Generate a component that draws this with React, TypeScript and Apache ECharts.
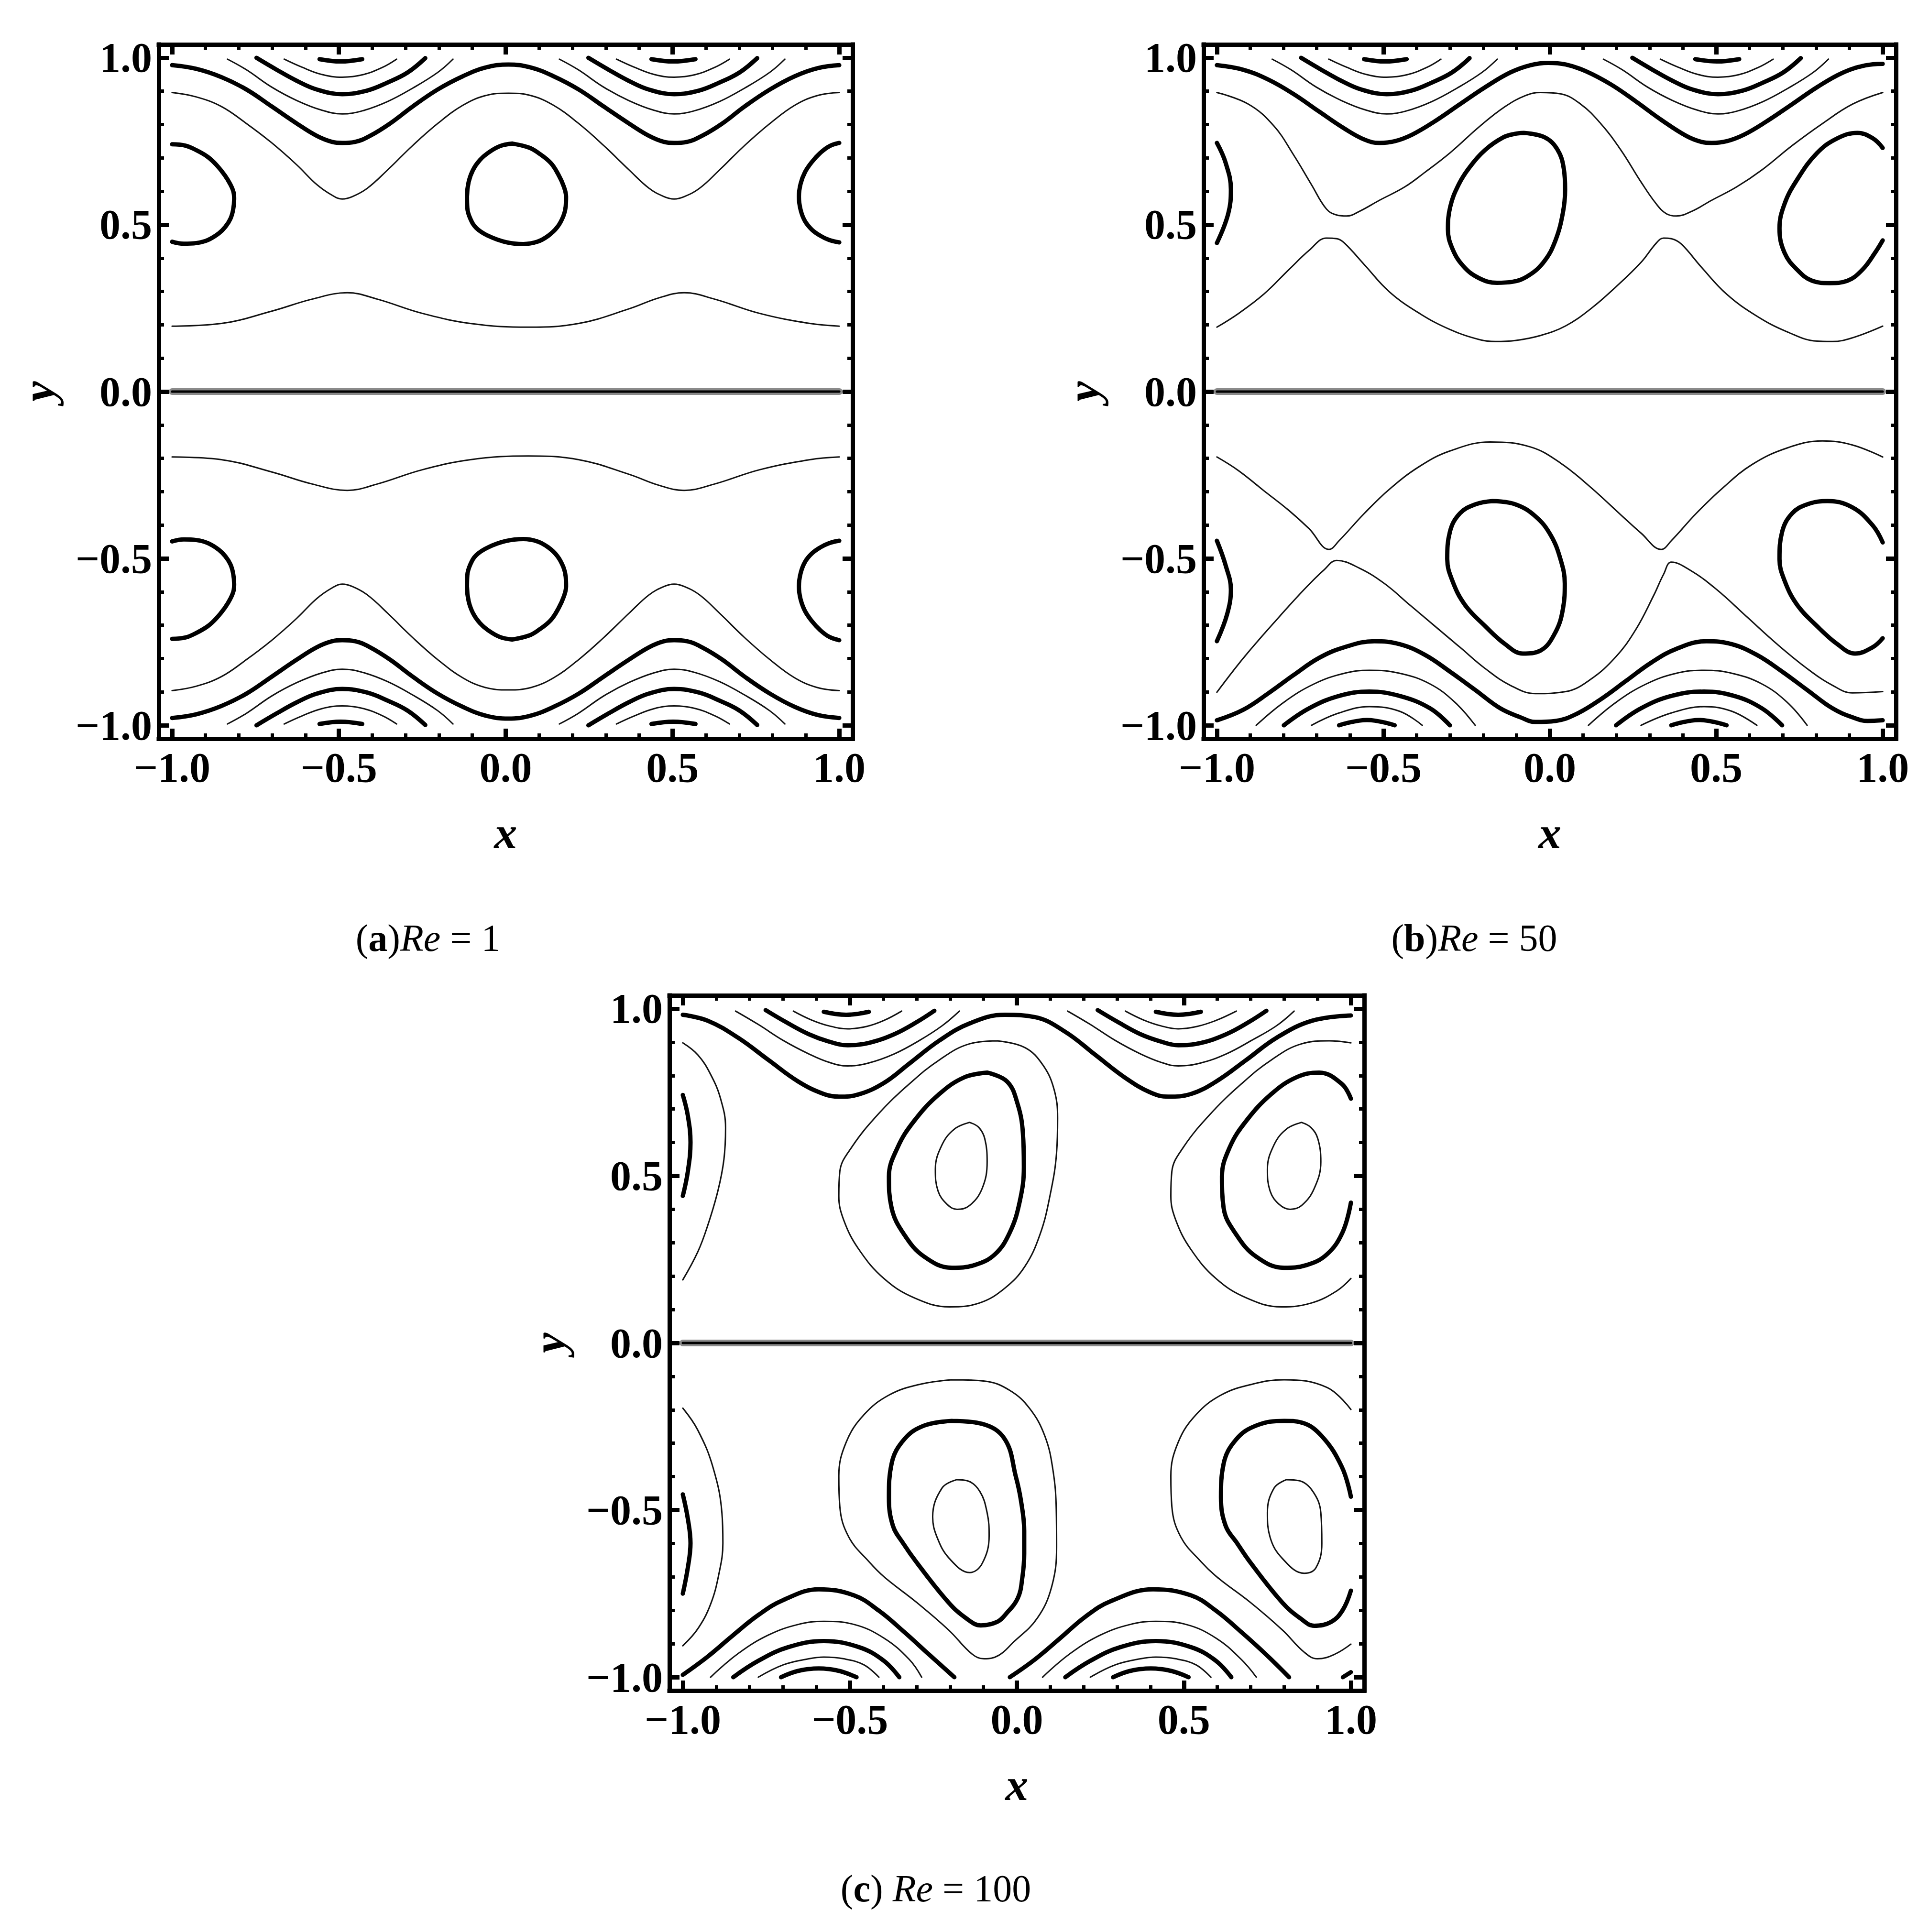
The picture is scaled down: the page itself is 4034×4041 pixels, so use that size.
import React, { useEffect, useRef } from "react";
import * as echarts from "echarts";

type Pt = [number, number];
type Poly = Pt[];

// ---------- axes / ticks ----------
const AXIS_MIN = -1.04;
const AXIS_MAX = 1.04;
const MAJOR_TICKS = [-1, -0.5, 0, 0.5, 1];
const MAJOR_LABELS = ["\u22121.0", "\u22120.5", "0.0", "0.5", "1.0"];
const MINOR_TICKS = [-1, -0.9, -0.8, -0.7, -0.6, -0.5, -0.4, -0.3, -0.2, -0.1, 0, 0.1, 0.2, 0.3, 0.4, 0.5, 0.6, 0.7, 0.8, 0.9, 1];
const X_TITLE = "x";
const Y_TITLE = "y";
const CAPTION_LETTERS = ["a", "b", "c"];
const CAPTION_RE = ["1", "50", "100"];
const CAPTION_GAP = ["", "", " "];

// ---------- shared wall streamlines near y = 1 (panels a and b) ----------
const WALL_CAP_L: Poly = [[-0.558, 0.996], [-0.495, 0.989], [-0.43, 0.996]];
const WALL_CAP_R: Poly = [[0.437, 0.996], [0.502, 0.989], [0.569, 0.996]];
const WALL_THIN1_L: Poly = [[-0.664, 0.996], [-0.611, 0.972], [-0.551, 0.95], [-0.49, 0.942], [-0.43, 0.949], [-0.37, 0.971], [-0.327, 0.996]];
const WALL_THIN1_R: Poly = [[0.332, 0.996], [0.385, 0.972], [0.445, 0.95], [0.505, 0.942], [0.566, 0.949], [0.626, 0.971], [0.671, 0.996]];
const WALL_THICK_L: Poly = [[-0.747, 1.0], [-0.686, 0.964], [-0.626, 0.931], [-0.566, 0.905], [-0.49, 0.891], [-0.415, 0.902], [-0.354, 0.926], [-0.294, 0.956], [-0.241, 0.999]];
const WALL_THICK_R: Poly = [[0.248, 1.0], [0.309, 0.964], [0.369, 0.931], [0.429, 0.905], [0.505, 0.891], [0.58, 0.902], [0.641, 0.926], [0.701, 0.956], [0.754, 0.999]];
const WALL_THIN2_L: Poly = [[-0.834, 0.996], [-0.777, 0.964], [-0.701, 0.912], [-0.626, 0.872], [-0.551, 0.843], [-0.49, 0.832], [-0.43, 0.841], [-0.354, 0.869], [-0.279, 0.909], [-0.204, 0.956], [-0.158, 0.996]];
const WALL_THIN2_R: Poly = [[0.161, 0.996], [0.218, 0.964], [0.294, 0.912], [0.369, 0.872], [0.444, 0.843], [0.505, 0.832], [0.565, 0.841], [0.641, 0.869], [0.716, 0.909], [0.791, 0.956], [0.837, 0.996]];

// ---------- panel (a) Re = 1, upper half (lower half is its mirror image) ----------
const A_WAVE_THICK: Poly = [[-1.0, 0.978], [-0.928, 0.967], [-0.852, 0.942], [-0.777, 0.905], [-0.701, 0.854], [-0.626, 0.803], [-0.566, 0.766], [-0.52, 0.748], [-0.49, 0.745], [-0.452, 0.748], [-0.407, 0.766], [-0.347, 0.803], [-0.279, 0.854], [-0.204, 0.905], [-0.128, 0.945], [-0.06, 0.971], [0.008, 0.98], [0.075, 0.971], [0.143, 0.945], [0.219, 0.905], [0.294, 0.854], [0.37, 0.803], [0.43, 0.766], [0.475, 0.748], [0.505, 0.745], [0.543, 0.748], [0.588, 0.766], [0.649, 0.803], [0.716, 0.854], [0.792, 0.905], [0.867, 0.945], [0.935, 0.969], [1.0, 0.978]];
const A_WAVE_THIN: Poly = [[-1.0, 0.896], [-0.928, 0.883], [-0.852, 0.854], [-0.777, 0.803], [-0.701, 0.745], [-0.626, 0.679], [-0.566, 0.62], [-0.52, 0.588], [-0.49, 0.577], [-0.46, 0.584], [-0.415, 0.609], [-0.354, 0.664], [-0.279, 0.737], [-0.204, 0.803], [-0.128, 0.858], [-0.06, 0.887], [0.008, 0.894], [0.075, 0.887], [0.143, 0.858], [0.219, 0.803], [0.294, 0.737], [0.37, 0.664], [0.43, 0.609], [0.475, 0.584], [0.505, 0.577], [0.535, 0.584], [0.581, 0.609], [0.641, 0.664], [0.716, 0.737], [0.792, 0.803], [0.867, 0.858], [0.935, 0.887], [1.0, 0.896]];
const A_LOOP_C: Poly = [[0.02, 0.743], [0.07, 0.731], [0.098, 0.715], [0.135, 0.685], [0.158, 0.65], [0.174, 0.615], [0.181, 0.584], [0.18, 0.555], [0.173, 0.526], [0.155, 0.493], [0.128, 0.467], [0.095, 0.449], [0.053, 0.442], [0.0, 0.448], [-0.053, 0.467], [-0.088, 0.49], [-0.106, 0.518], [-0.115, 0.55], [-0.116, 0.584], [-0.111, 0.628], [-0.098, 0.664], [-0.078, 0.693], [-0.053, 0.715], [-0.018, 0.735], [0.02, 0.743]];
const A_LOOP_L: Poly = [[-1.0, 0.741], [-0.96, 0.737], [-0.927, 0.723], [-0.893, 0.703], [-0.867, 0.679], [-0.842, 0.648], [-0.825, 0.62], [-0.816, 0.598], [-0.814, 0.577], [-0.817, 0.545], [-0.825, 0.518], [-0.84, 0.494], [-0.86, 0.474], [-0.893, 0.454], [-0.927, 0.445], [-0.965, 0.443], [-1.0, 0.449]];
const A_LOOP_R: Poly = [[1.0, 0.745], [0.97, 0.735], [0.943, 0.715], [0.918, 0.688], [0.897, 0.657], [0.884, 0.622], [0.879, 0.584], [0.884, 0.545], [0.897, 0.511], [0.918, 0.485], [0.943, 0.467], [0.97, 0.454], [1.0, 0.447]];
const A_MID: Poly = [[-1.0, 0.196], [-0.852, 0.204], [-0.701, 0.241], [-0.58, 0.277], [-0.475, 0.296], [-0.385, 0.277], [-0.249, 0.234], [-0.098, 0.203], [0.068, 0.193], [0.219, 0.204], [0.37, 0.248], [0.46, 0.281], [0.535, 0.296], [0.626, 0.277], [0.762, 0.234], [0.912, 0.204], [1.0, 0.196]];

// ---------- panel (b) Re = 50 ----------
const B_WAVE_THICK: Poly = [[-1.0, 0.978], [-0.92, 0.964], [-0.844, 0.934], [-0.769, 0.891], [-0.693, 0.839], [-0.617, 0.788], [-0.557, 0.755], [-0.512, 0.745], [-0.466, 0.75], [-0.413, 0.77], [-0.345, 0.81], [-0.27, 0.861], [-0.194, 0.912], [-0.119, 0.956], [-0.058, 0.978], [-0.005, 0.985], [0.048, 0.98], [0.108, 0.96], [0.184, 0.92], [0.259, 0.869], [0.335, 0.814], [0.41, 0.766], [0.456, 0.748], [0.486, 0.745], [0.531, 0.75], [0.584, 0.77], [0.652, 0.81], [0.728, 0.861], [0.803, 0.912], [0.879, 0.955], [0.947, 0.977], [1.0, 0.982]];
const B_SADDLE_UP: Poly = [[-1.0, 0.896], [-0.905, 0.861], [-0.829, 0.796], [-0.769, 0.708], [-0.716, 0.62], [-0.671, 0.547], [-0.64, 0.529], [-0.61, 0.526], [-0.572, 0.54], [-0.512, 0.573], [-0.436, 0.613], [-0.375, 0.657], [-0.3, 0.715], [-0.209, 0.796], [-0.134, 0.854], [-0.073, 0.887], [-0.028, 0.896], [0.032, 0.892], [0.093, 0.861], [0.153, 0.803], [0.214, 0.723], [0.274, 0.628], [0.32, 0.562], [0.35, 0.533], [0.38, 0.526], [0.426, 0.54], [0.486, 0.573], [0.561, 0.613], [0.637, 0.664], [0.728, 0.737], [0.819, 0.803], [0.909, 0.861], [1.0, 0.896]];
const B_SADDLE_LO: Poly = [[-1.0, 0.193], [-0.935, 0.234], [-0.859, 0.292], [-0.784, 0.365], [-0.723, 0.423], [-0.671, 0.46], [-0.64, 0.458], [-0.617, 0.445], [-0.557, 0.38], [-0.482, 0.299], [-0.391, 0.234], [-0.3, 0.186], [-0.209, 0.155], [-0.164, 0.15], [-0.104, 0.153], [-0.028, 0.168], [0.048, 0.197], [0.123, 0.248], [0.199, 0.314], [0.274, 0.387], [0.32, 0.445], [0.342, 0.46], [0.365, 0.458], [0.395, 0.442], [0.456, 0.372], [0.531, 0.292], [0.622, 0.226], [0.713, 0.179], [0.803, 0.151], [0.849, 0.15], [0.909, 0.161], [1.0, 0.196]];
const B_LOOP_C: Poly = [[-0.078, 0.775], [-0.016, 0.762], [0.023, 0.725], [0.042, 0.668], [0.046, 0.605], [0.039, 0.534], [0.017, 0.453], [-0.016, 0.391], [-0.063, 0.348], [-0.112, 0.329], [-0.159, 0.326], [-0.213, 0.34], [-0.26, 0.376], [-0.293, 0.429], [-0.306, 0.486], [-0.299, 0.554], [-0.274, 0.62], [-0.241, 0.672], [-0.193, 0.725], [-0.141, 0.761], [-0.106, 0.772], [-0.078, 0.775]];
const B_LOOP_R: Poly = [[1.0, 0.73], [0.97, 0.759], [0.924, 0.775], [0.864, 0.759], [0.803, 0.715], [0.743, 0.635], [0.705, 0.562], [0.69, 0.489], [0.705, 0.416], [0.743, 0.365], [0.788, 0.332], [0.841, 0.325], [0.894, 0.332], [0.939, 0.365], [0.977, 0.416], [1.0, 0.453]];
const B_LOOP_L: Poly = [[-1.0, 0.745], [-0.974, 0.686], [-0.958, 0.606], [-0.966, 0.533], [-1.0, 0.445]];

const B_BOT_SADDLE_UP: Poly = [[-1.0, -0.196], [-0.935, -0.237], [-0.859, -0.297], [-0.784, -0.356], [-0.723, -0.411], [-0.663, -0.473], [-0.633, -0.447], [-0.557, -0.365], [-0.481, -0.292], [-0.391, -0.224], [-0.3, -0.178], [-0.179, -0.151], [-0.058, -0.166], [0.032, -0.214], [0.123, -0.287], [0.214, -0.37], [0.274, -0.424], [0.335, -0.473], [0.365, -0.447], [0.44, -0.365], [0.516, -0.292], [0.607, -0.219], [0.713, -0.169], [0.819, -0.148], [0.909, -0.16], [1.0, -0.196]];
const B_BOT_SADDLE_LO: Poly = [[-1.0, -0.901], [-0.92, -0.798], [-0.829, -0.693], [-0.738, -0.593], [-0.678, -0.534], [-0.64, -0.506], [-0.572, -0.529], [-0.497, -0.575], [-0.421, -0.639], [-0.345, -0.703], [-0.27, -0.766], [-0.194, -0.83], [-0.119, -0.88], [-0.043, -0.905], [0.048, -0.899], [0.123, -0.862], [0.199, -0.794], [0.259, -0.712], [0.312, -0.611], [0.342, -0.547], [0.365, -0.511], [0.426, -0.538], [0.501, -0.593], [0.592, -0.675], [0.683, -0.757], [0.773, -0.83], [0.849, -0.88], [0.909, -0.903], [1.0, -0.899]];
const B_BOT_WAVE: Poly = [[-1.0, -0.985], [-0.92, -0.953], [-0.844, -0.903], [-0.769, -0.849], [-0.693, -0.798], [-0.617, -0.766], [-0.527, -0.748], [-0.451, -0.757], [-0.375, -0.789], [-0.3, -0.839], [-0.224, -0.894], [-0.149, -0.949], [-0.088, -0.976], [-0.043, -0.99], [0.017, -0.987], [0.078, -0.967], [0.153, -0.922], [0.229, -0.867], [0.305, -0.812], [0.38, -0.771], [0.471, -0.748], [0.547, -0.757], [0.622, -0.789], [0.698, -0.839], [0.773, -0.894], [0.849, -0.949], [0.909, -0.976], [0.955, -0.987], [1.0, -0.985]];
const B_BOT_THIN2_L: Poly = [[-0.882, -1.0], [-0.799, -0.931], [-0.708, -0.876], [-0.617, -0.844], [-0.542, -0.835], [-0.451, -0.844], [-0.36, -0.876], [-0.285, -0.931], [-0.224, -1.0]];
const B_BOT_THIN2_R: Poly = [[0.116, -1.0], [0.199, -0.931], [0.29, -0.876], [0.38, -0.844], [0.463, -0.835], [0.547, -0.844], [0.637, -0.876], [0.713, -0.931], [0.773, -1.0]];
const B_BOT_THICK_L: Poly = [[-0.799, -1.0], [-0.723, -0.949], [-0.633, -0.912], [-0.542, -0.899], [-0.451, -0.912], [-0.36, -0.949], [-0.3, -1.0]];
const B_BOT_THICK_R: Poly = [[0.199, -1.0], [0.274, -0.949], [0.365, -0.912], [0.463, -0.899], [0.554, -0.912], [0.637, -0.949], [0.698, -1.0]];
const B_BOT_THIN1_L: Poly = [[-0.716, -1.0], [-0.633, -0.963], [-0.542, -0.944], [-0.451, -0.958], [-0.383, -1.0]];
const B_BOT_THIN1_R: Poly = [[0.274, -1.0], [0.365, -0.963], [0.463, -0.944], [0.547, -0.958], [0.622, -1.0]];
const B_BOT_CAP_L: Poly = [[-0.633, -1.0], [-0.549, -0.984], [-0.466, -1.0]];
const B_BOT_CAP_R: Poly = [[0.365, -1.0], [0.448, -0.984], [0.531, -1.0]];
const B_BOT_LOOP_C: Poly = [[-0.172, -0.328], [-0.103, -0.338], [-0.043, -0.374], [0.002, -0.429], [0.032, -0.502], [0.045, -0.575], [0.04, -0.648], [0.017, -0.721], [-0.028, -0.776], [-0.081, -0.785], [-0.134, -0.757], [-0.194, -0.703], [-0.255, -0.639], [-0.293, -0.566], [-0.308, -0.502], [-0.3, -0.42], [-0.27, -0.365], [-0.224, -0.338], [-0.172, -0.328]];
const B_BOT_LOOP_R: Poly = [[1.0, -0.452], [0.97, -0.401], [0.909, -0.347], [0.834, -0.328], [0.773, -0.338], [0.728, -0.365], [0.698, -0.42], [0.69, -0.502], [0.705, -0.566], [0.743, -0.639], [0.803, -0.703], [0.864, -0.757], [0.917, -0.785], [0.97, -0.766], [1.0, -0.739]];
const B_BOT_LOOP_L: Poly = [[-1.0, -0.447], [-0.974, -0.52], [-0.958, -0.593], [-0.969, -0.666], [-1.0, -0.748]];

// ---------- panel (c) Re = 100 ----------
const C_CAP_L: Poly = [[-0.578, 0.991], [-0.511, 0.982], [-0.443, 0.991]];
const C_CAP_R: Poly = [[0.416, 0.991], [0.483, 0.982], [0.551, 0.991]];
const C_THIN1_L: Poly = [[-0.669, 0.993], [-0.616, 0.967], [-0.563, 0.949], [-0.506, 0.94], [-0.45, 0.947], [-0.398, 0.965], [-0.345, 0.993]];
const C_THIN1_R: Poly = [[0.325, 0.993], [0.378, 0.967], [0.431, 0.949], [0.483, 0.94], [0.539, 0.947], [0.596, 0.965], [0.657, 0.993]];
const C_THICK_L: Poly = [[-0.752, 0.996], [-0.691, 0.96], [-0.623, 0.924], [-0.563, 0.902], [-0.506, 0.891], [-0.443, 0.898], [-0.367, 0.924], [-0.3, 0.96], [-0.247, 0.994]];
const C_THICK_R: Poly = [[0.242, 0.996], [0.303, 0.96], [0.37, 0.924], [0.431, 0.902], [0.483, 0.891], [0.551, 0.898], [0.627, 0.924], [0.694, 0.96], [0.747, 0.994]];
const C_THIN2_L: Poly = [[-0.842, 0.993], [-0.774, 0.953], [-0.699, 0.905], [-0.623, 0.865], [-0.563, 0.84], [-0.506, 0.829], [-0.443, 0.838], [-0.367, 0.865], [-0.292, 0.905], [-0.224, 0.949], [-0.172, 0.993]];
const C_THIN2_R: Poly = [[0.152, 0.993], [0.22, 0.953], [0.295, 0.905], [0.37, 0.865], [0.431, 0.84], [0.483, 0.829], [0.551, 0.838], [0.627, 0.865], [0.702, 0.905], [0.777, 0.949], [0.83, 0.993]];
const C_WAVE_THICK: Poly = [[-1.0, 0.982], [-0.925, 0.964], [-0.834, 0.913], [-0.744, 0.847], [-0.654, 0.782], [-0.578, 0.745], [-0.533, 0.737], [-0.473, 0.744], [-0.398, 0.778], [-0.322, 0.836], [-0.232, 0.905], [-0.142, 0.956], [-0.036, 0.982], [0.054, 0.975], [0.145, 0.931], [0.235, 0.862], [0.325, 0.793], [0.401, 0.749], [0.453, 0.737], [0.521, 0.745], [0.596, 0.782], [0.687, 0.847], [0.777, 0.913], [0.883, 0.964], [1.0, 0.98]];
const C_LEFT_THIN: Poly = [[-1.0, 0.898], [-0.955, 0.862], [-0.917, 0.804], [-0.887, 0.731], [-0.872, 0.644], [-0.877, 0.549], [-0.895, 0.455], [-0.925, 0.353], [-0.955, 0.273], [-1.0, 0.189]];
const C_LEFT_THICK: Poly = [[-1.0, 0.742], [-0.985, 0.68], [-0.977, 0.6], [-0.985, 0.513], [-1.0, 0.44]];
const C_C_OUTER: Poly = [[-0.059, 0.904], [0.024, 0.884], [0.077, 0.833], [0.111, 0.76], [0.122, 0.673], [0.119, 0.571], [0.099, 0.44], [0.069, 0.324], [0.024, 0.229], [-0.036, 0.164], [-0.111, 0.12], [-0.202, 0.108], [-0.307, 0.135], [-0.398, 0.193], [-0.473, 0.28], [-0.518, 0.367], [-0.533, 0.44], [-0.53, 0.513], [-0.495, 0.585], [-0.413, 0.687], [-0.322, 0.775], [-0.232, 0.847], [-0.142, 0.895], [-0.059, 0.904]];
const C_C_MID: Poly = [[-0.089, 0.809], [-0.029, 0.782], [0.002, 0.716], [0.018, 0.629], [0.021, 0.527], [0.009, 0.425], [-0.021, 0.331], [-0.066, 0.265], [-0.127, 0.233], [-0.194, 0.225], [-0.277, 0.258], [-0.337, 0.324], [-0.375, 0.404], [-0.383, 0.498], [-0.357, 0.585], [-0.307, 0.665], [-0.232, 0.745], [-0.157, 0.795], [-0.089, 0.809]];
const C_C_INNER: Poly = [[-0.142, 0.66], [-0.114, 0.645], [-0.096, 0.611], [-0.089, 0.542], [-0.104, 0.462], [-0.142, 0.411], [-0.179, 0.4], [-0.209, 0.415], [-0.236, 0.455], [-0.244, 0.52], [-0.224, 0.593], [-0.187, 0.64], [-0.142, 0.66]];
const C_R_OUTER: Poly = [[1.0, 0.898], [0.935, 0.904], [0.852, 0.895], [0.762, 0.847], [0.672, 0.775], [0.581, 0.687], [0.498, 0.585], [0.464, 0.513], [0.461, 0.44], [0.476, 0.367], [0.521, 0.28], [0.596, 0.193], [0.687, 0.135], [0.792, 0.108], [0.883, 0.12], [0.958, 0.156], [1.0, 0.193]];
const C_R_MID: Poly = [[1.0, 0.731], [0.973, 0.775], [0.905, 0.809], [0.837, 0.795], [0.762, 0.745], [0.687, 0.665], [0.637, 0.585], [0.614, 0.498], [0.619, 0.404], [0.657, 0.324], [0.717, 0.258], [0.8, 0.225], [0.867, 0.233], [0.928, 0.265], [0.975, 0.331], [1.0, 0.42]];
const C_R_INNER: Poly = [[0.852, 0.66], [0.88, 0.645], [0.901, 0.611], [0.91, 0.542], [0.89, 0.462], [0.852, 0.411], [0.818, 0.4], [0.785, 0.415], [0.758, 0.455], [0.75, 0.52], [0.77, 0.593], [0.807, 0.64], [0.852, 0.66]];

const C_BOT_CAP_L: Poly = [[-0.706, -1.0], [-0.654, -0.981], [-0.593, -0.974], [-0.533, -0.981], [-0.48, -1.0]];
const C_BOT_CAP_R: Poly = [[0.288, -1.0], [0.34, -0.981], [0.401, -0.974], [0.461, -0.981], [0.514, -1.0]];
const C_BOT_THIN1_L: Poly = [[-0.774, -1.0], [-0.699, -0.963], [-0.623, -0.945], [-0.578, -0.94], [-0.518, -0.945], [-0.458, -0.963], [-0.413, -1.0]];
const C_BOT_THIN1_R: Poly = [[0.22, -1.0], [0.295, -0.963], [0.37, -0.945], [0.416, -0.94], [0.476, -0.945], [0.536, -0.963], [0.581, -1.0]];
const C_BOT_THICK_L: Poly = [[-0.849, -1.0], [-0.774, -0.951], [-0.684, -0.91], [-0.578, -0.892], [-0.473, -0.91], [-0.398, -0.951], [-0.352, -1.0]];
const C_BOT_THICK_R: Poly = [[0.145, -1.0], [0.22, -0.951], [0.31, -0.91], [0.416, -0.892], [0.521, -0.91], [0.596, -0.951], [0.642, -1.0]];
const C_BOT_THIN2_L: Poly = [[-0.917, -1.0], [-0.834, -0.929], [-0.744, -0.874], [-0.654, -0.842], [-0.578, -0.833], [-0.488, -0.842], [-0.398, -0.883], [-0.322, -0.947], [-0.285, -1.0]];
const C_BOT_THIN2_R: Poly = [[0.077, -1.0], [0.16, -0.929], [0.25, -0.874], [0.34, -0.842], [0.416, -0.833], [0.506, -0.842], [0.596, -0.883], [0.672, -0.947], [0.717, -1.0]];
const C_BOT_WAVE_L: Poly = [[-1.0, -0.993], [-0.925, -0.938], [-0.849, -0.874], [-0.774, -0.814], [-0.699, -0.769], [-0.593, -0.737], [-0.488, -0.755], [-0.413, -0.801], [-0.337, -0.865], [-0.262, -0.933], [-0.187, -1.0]];
const C_BOT_WAVE_R: Poly = [[-0.021, -1.0], [0.054, -0.947], [0.13, -0.883], [0.205, -0.819], [0.28, -0.773], [0.408, -0.737], [0.521, -0.755], [0.596, -0.801], [0.672, -0.865], [0.747, -0.933], [0.815, -1.0]];
const C_BOT_WAVE_CORNER: Poly = [[0.976, -1.0], [1.0, -0.985]];
const C_BOT_LEFT_THIN: Poly = [[-1.0, -0.195], [-0.955, -0.261], [-0.91, -0.371], [-0.883, -0.508], [-0.88, -0.599], [-0.892, -0.691], [-0.917, -0.782], [-0.955, -0.855], [-1.0, -0.906]];
const C_BOT_LEFT_THICK: Poly = [[-1.0, -0.453], [-0.985, -0.526], [-0.977, -0.599], [-0.985, -0.672], [-1.0, -0.75]];
const C_BOT_C_OUTER: Poly = [[-0.194, -0.11], [-0.097, -0.114], [-0.021, -0.142], [0.039, -0.197], [0.084, -0.279], [0.108, -0.38], [0.118, -0.5], [0.119, -0.609], [0.104, -0.73], [0.06, -0.825], [-0.012, -0.897], [-0.055, -0.935], [-0.098, -0.945], [-0.135, -0.93], [-0.204, -0.859], [-0.299, -0.777], [-0.396, -0.701], [-0.443, -0.654], [-0.503, -0.581], [-0.53, -0.489], [-0.533, -0.398], [-0.511, -0.297], [-0.458, -0.215], [-0.383, -0.156], [-0.292, -0.124], [-0.194, -0.11]];
const C_BOT_C_MID: Poly = [[-0.194, -0.233], [-0.104, -0.242], [-0.036, -0.288], [-0.003, -0.4], [0.012, -0.47], [0.022, -0.562], [0.022, -0.63], [0.016, -0.705], [0.003, -0.763], [-0.032, -0.81], [-0.06, -0.835], [-0.108, -0.845], [-0.15, -0.825], [-0.204, -0.777], [-0.299, -0.658], [-0.34, -0.6], [-0.371, -0.547], [-0.383, -0.462], [-0.375, -0.361], [-0.337, -0.288], [-0.277, -0.247], [-0.194, -0.233]];
const C_BOT_C_INNER: Poly = [[-0.18, -0.409], [-0.149, -0.412], [-0.111, -0.444], [-0.089, -0.508], [-0.083, -0.576], [-0.104, -0.66], [-0.141, -0.687], [-0.202, -0.645], [-0.239, -0.581], [-0.252, -0.52], [-0.224, -0.434], [-0.18, -0.409]];
const C_BOT_R_OUTER: Poly = [[1.0, -0.199], [0.928, -0.133], [0.8, -0.11], [0.702, -0.124], [0.611, -0.156], [0.536, -0.215], [0.483, -0.297], [0.461, -0.398], [0.464, -0.489], [0.491, -0.581], [0.551, -0.654], [0.6, -0.701], [0.7, -0.777], [0.795, -0.859], [0.86, -0.925], [0.9, -0.945], [0.95, -0.932], [1.0, -0.901]];
const C_BOT_R_MID: Poly = [[1.0, -0.46], [0.973, -0.371], [0.913, -0.279], [0.852, -0.238], [0.8, -0.233], [0.717, -0.247], [0.657, -0.288], [0.619, -0.361], [0.611, -0.462], [0.625, -0.547], [0.66, -0.6], [0.7, -0.658], [0.795, -0.777], [0.85, -0.825], [0.89, -0.846], [0.94, -0.835], [0.975, -0.8], [1.0, -0.741]];
const C_BOT_R_INNER: Poly = [[0.807, -0.409], [0.845, -0.412], [0.886, -0.444], [0.91, -0.508], [0.913, -0.599], [0.895, -0.673], [0.86, -0.689], [0.795, -0.645], [0.758, -0.581], [0.75, -0.508], [0.77, -0.434], [0.807, -0.409]];

const ZERO_LINE: Poly = [[-1.0, 0], [1.0, 0]];

// ---------- layout (pixels) ----------
const GRIDS = [
  { left: 332, top: 93, width: 1451, height: 1452 },
  { left: 2517, top: 93, width: 1448, height: 1452 },
  { left: 1400, top: 2082, width: 1453, height: 1454 },
];
const CAPTION_POS: Pt[] = [[895, 1962], [3083, 1962], [1957, 3950]];
const FONT = "'Liberation Serif', 'Times New Roman', serif";
const THICK = 9;
const THIN = 3;
const FRAME_W = 9;
const SMOOTH = 0.4;

const mirror = (p: Poly): Poly => p.map(([x, y]) => [x, -y] as Pt);

function buildOption() {
  const A_THIN_TOP = [WALL_THIN1_L, WALL_THIN1_R, WALL_THIN2_L, WALL_THIN2_R, A_WAVE_THIN, A_MID];
  const A_THICK_TOP = [WALL_CAP_L, WALL_CAP_R, WALL_THICK_L, WALL_THICK_R, A_WAVE_THICK, A_LOOP_C, A_LOOP_L, A_LOOP_R];
  const panels: { thin: Poly[]; thick: Poly[] }[] = [
    {
      thin: [...A_THIN_TOP, ...A_THIN_TOP.map(mirror)],
      thick: [...A_THICK_TOP, ...A_THICK_TOP.map(mirror)],
    },
    {
      thin: [WALL_THIN1_L, WALL_THIN1_R, WALL_THIN2_L, WALL_THIN2_R, B_SADDLE_UP, B_SADDLE_LO,
        B_BOT_SADDLE_UP, B_BOT_SADDLE_LO, B_BOT_THIN2_L, B_BOT_THIN2_R, B_BOT_THIN1_L, B_BOT_THIN1_R],
      thick: [WALL_CAP_L, WALL_CAP_R, WALL_THICK_L, WALL_THICK_R, B_WAVE_THICK, B_LOOP_C, B_LOOP_R, B_LOOP_L,
        B_BOT_WAVE, B_BOT_THICK_L, B_BOT_THICK_R, B_BOT_CAP_L, B_BOT_CAP_R, B_BOT_LOOP_C, B_BOT_LOOP_R, B_BOT_LOOP_L],
    },
    {
      thin: [C_THIN1_L, C_THIN1_R, C_THIN2_L, C_THIN2_R, C_LEFT_THIN, C_C_OUTER, C_C_INNER, C_R_OUTER, C_R_INNER,
        C_BOT_THIN1_L, C_BOT_THIN1_R, C_BOT_THIN2_L, C_BOT_THIN2_R, C_BOT_LEFT_THIN, C_BOT_C_OUTER, C_BOT_C_INNER, C_BOT_R_OUTER, C_BOT_R_INNER],
      thick: [C_CAP_L, C_CAP_R, C_THICK_L, C_THICK_R, C_WAVE_THICK, C_LEFT_THICK, C_C_MID, C_R_MID,
        C_BOT_CAP_L, C_BOT_CAP_R, C_BOT_THICK_L, C_BOT_THICK_R, C_BOT_WAVE_L, C_BOT_WAVE_R, C_BOT_WAVE_CORNER, C_BOT_LEFT_THICK, C_BOT_C_MID, C_BOT_R_MID],
    },
  ];

  const labelFmt = (v: number) => {
    const i = MAJOR_TICKS.findIndex((t) => Math.abs(t - v) < 1e-6);
    return i >= 0 ? MAJOR_LABELS[i] : "";
  };

  const axes = (dim: "x" | "y", gi: number) => {
    const main = dim === "x" ? "bottom" : "left";
    const opp = dim === "x" ? "top" : "right";
    const base: any = {
      type: "value", gridIndex: gi, min: AXIS_MIN, max: AXIS_MAX,
      splitLine: { show: false }, axisLine: { show: false, onZero: false },
      axisLabel: { show: false }, axisTick: { show: false }, z: 10,
    };
    const line = { show: true, onZero: false, lineStyle: { color: "#000", width: FRAME_W, cap: "square" } };
    const major = { show: true, inside: true, customValues: MAJOR_TICKS, length: 21, lineStyle: { color: "#000", width: 9 } };
    const minor = { show: true, inside: true, customValues: MINOR_TICKS, length: 11, lineStyle: { color: "#000", width: 7 } };
    return [
      {
        ...base, position: main, axisLine: line, axisTick: major,
        axisLabel: {
          show: true, customValues: MAJOR_TICKS, formatter: labelFmt, fontFamily: FONT,
          fontWeight: "bold", fontSize: 88, color: "#000", margin: dim === "x" ? 16 : 14,
        },
      },
      { ...base, position: main, axisTick: minor },
      { ...base, position: opp, axisLine: line, axisTick: major },
      { ...base, position: opp, axisTick: minor },
    ];
  };

  const series: any[] = [];
  const mk = (data: Poly, gi: number, width: number, color: string, z: number) => ({
    type: "line", xAxisIndex: gi * 4, yAxisIndex: gi * 4, data,
    symbol: "none", showSymbol: false, smooth: SMOOTH, silent: true, animation: false, clip: false,
    lineStyle: { color, width, cap: "round", join: "round" }, z,
  });
  panels.forEach((p, gi) => {
    p.thin.forEach((d) => series.push(mk(d, gi, THIN, "#111", 3)));
    p.thick.forEach((d) => series.push(mk(d, gi, THICK, "#000", 4)));
    series.push(mk(ZERO_LINE, gi, 14, "#8a8a8a", 5));
    series.push(mk(ZERO_LINE, gi, 5, "#000", 6));
  });

  const graphic: any[] = [];
  GRIDS.forEach((g, gi) => {
    graphic.push({
      type: "text", x: g.left + g.width / 2, y: g.top + g.height + 196,
      style: { text: X_TITLE, fill: "#000", font: `italic bold 96px ${FONT}`, align: "center", verticalAlign: "middle" },
    });
    graphic.push({
      type: "text", x: g.left - 252, y: g.top + g.height / 2, rotation: Math.PI / 2,
      style: { text: Y_TITLE, fill: "#000", font: `italic bold 96px ${FONT}`, align: "center", verticalAlign: "middle" },
    });
    const [cx, cy] = CAPTION_POS[gi];
    graphic.push({
      type: "text", x: cx, y: cy,
      style: {
        text: `{p|(}{b|${CAPTION_LETTERS[gi]}}{p|)${CAPTION_GAP[gi]}}{i|Re}{p| = ${CAPTION_RE[gi]}}`,
        align: "center", verticalAlign: "middle", fill: "#000",
        rich: {
          p: { fontFamily: FONT, fontSize: 80, fill: "#000" },
          b: { fontFamily: FONT, fontSize: 80, fontWeight: "bold", fill: "#000" },
          i: { fontFamily: FONT, fontSize: 80, fontStyle: "italic", fill: "#000" },
        },
      },
    });
  });

  return {
    animation: false,
    backgroundColor: "#fff",
    grid: GRIDS.map((g) => ({ ...g, containLabel: false, outerBoundsMode: "none" })),
    xAxis: [0, 1, 2].flatMap((gi) => axes("x", gi)),
    yAxis: [0, 1, 2].flatMap((gi) => axes("y", gi)),
    series,
    graphic,
  };
}

export default function App() {
  const ref = useRef<HTMLDivElement>(null);
  useEffect(() => {
    if (!ref.current) return;
    const chart = echarts.init(ref.current, null, { renderer: "svg" });
    chart.setOption(buildOption() as any);
    return () => chart.dispose();
  }, []);
  return (
    <div
      ref={ref}
      style={{ position: "absolute", left: 0, top: 0, width: 4034, height: 4041, background: "#fff" }}
    />
  );
}
